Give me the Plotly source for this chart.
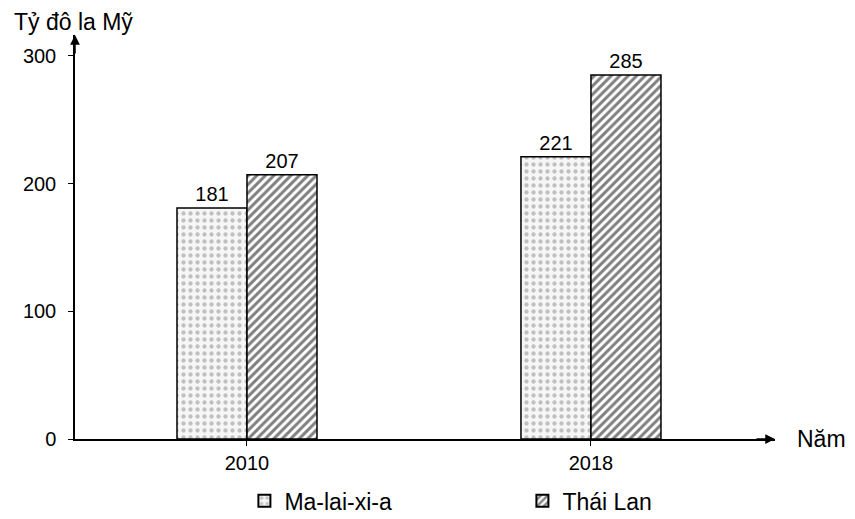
import plotly.graph_objects as go

years = ["2010", "2018"]
x_pos = [0, 1]
malaysia = [181, 221]
thailand = [207, 285]
series_names = ["Ma-lai-xi-a", "Thái Lan"]
y_ticks = [0, 100, 200, 300]

FONT = "Liberation Sans, Arial, sans-serif"

fig = go.Figure()
fig.add_trace(go.Bar(
    x=x_pos, y=malaysia, name=series_names[0],
    text=malaysia, textposition="outside", cliponaxis=False,
    textfont=dict(size=20, color="black", family=FONT),
    marker=dict(color="#f6f6f6",
                line=dict(color="black", width=1.5),
                pattern=dict(shape=".", fgcolor="#8a8a8a", bgcolor="#f6f6f6",
                             size=7, solidity=0.3)),
))
fig.add_trace(go.Bar(
    x=x_pos, y=thailand, name=series_names[1],
    text=thailand, textposition="outside", cliponaxis=False,
    textfont=dict(size=20, color="black", family=FONT),
    marker=dict(color="white",
                line=dict(color="black", width=1.5),
                pattern=dict(shape="/", fgcolor="black", bgcolor="white",
                             size=6, solidity=0.5)),
))

# page body offsets the figure by ~8px; margins compensate
fig.update_layout(
    width=855, height=519,
    margin=dict(l=67, r=88, t=27, b=88, autoexpand=False),
    plot_bgcolor="white", paper_bgcolor="white",
    barmode="group", bargap=0.593, bargroupgap=0,
    font=dict(family=FONT, size=20, color="black"),
    showlegend=True,
    legend=dict(orientation="h", x=0.242, y=-0.153, xanchor="left", yanchor="middle",
                font=dict(size=23, family=FONT), entrywidth=233, entrywidthmode="pixels",
                itemsizing="constant"),
)
fig.update_xaxes(
    range=[-0.5, 1.535], tickvals=x_pos, ticktext=years,
    showline=True, linecolor="black", linewidth=1.5,
    ticks="outside", ticklen=5, tickcolor="black",
    showgrid=False, zeroline=False, tickfont=dict(size=20), automargin=False,
)
fig.update_yaxes(
    range=[0, 316.4], tickvals=y_ticks,
    showline=True, linecolor="black", linewidth=1.5,
    ticks="outside", ticklen=5, tickcolor="black",
    showgrid=False, zeroline=False, tickfont=dict(size=20),
    ticklabelstandoff=8, automargin=False,
)

# axis arrowheads
fig.add_annotation(x=0, y=1, xref="paper", yref="paper", ax=0, ay=20,
                   text="", showarrow=True, arrowhead=2, arrowsize=1.3,
                   arrowwidth=1.5, arrowcolor="black")
fig.add_annotation(x=1, y=0, xref="paper", yref="paper", ax=-20, ay=0,
                   text="", showarrow=True, arrowhead=2, arrowsize=1.3,
                   arrowwidth=1.5, arrowcolor="black")
fig.add_annotation(x=1, y=0, xref="paper", yref="paper", xshift=20,
                   xanchor="left", yanchor="middle", text="Năm", showarrow=False,
                   font=dict(size=23))
fig.add_annotation(x=0, y=1, xref="paper", yref="paper", xshift=-63, yshift=13,
                   xanchor="left", yanchor="middle", text="Tỷ đô la Mỹ", showarrow=False,
                   font=dict(size=23))

fig.write_html("out.html")
